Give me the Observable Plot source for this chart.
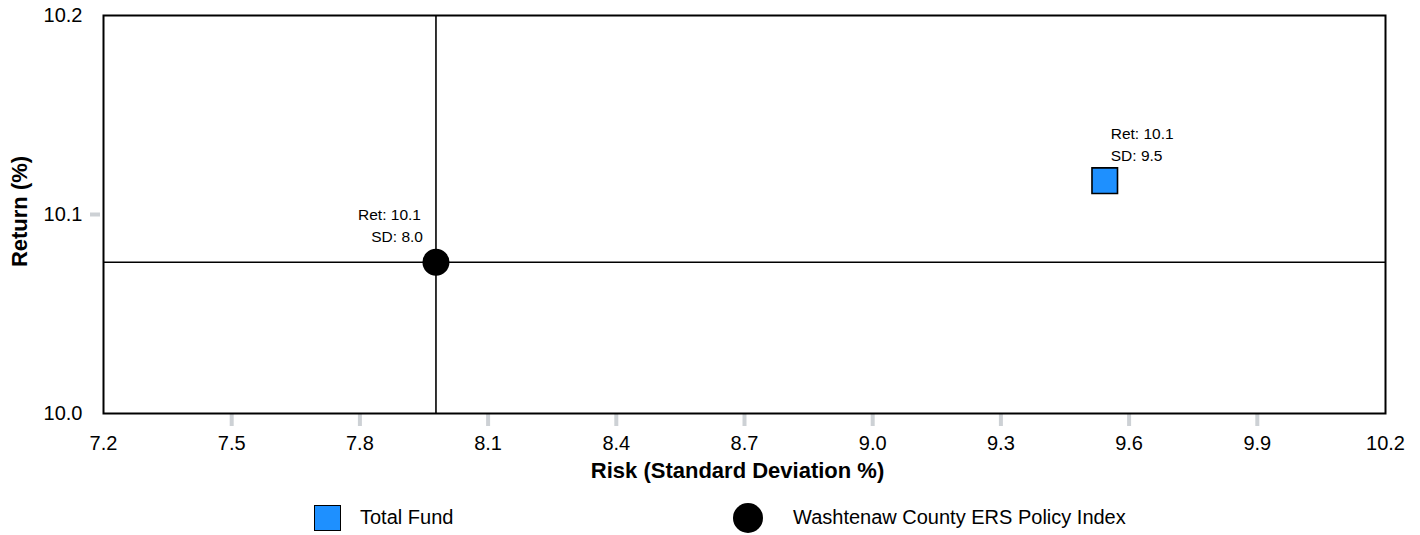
<!DOCTYPE html>
<html>
<head>
<meta charset="utf-8">
<script src="https://cdn.jsdelivr.net/npm/d3@7"></script>
<script src="https://cdn.jsdelivr.net/npm/@observablehq/plot@0.6"></script>
<style>
  html, body { margin: 0; padding: 0; background: #fff; }
  body { font-family: "Liberation Sans", Arial, sans-serif; }
  #wrap { position: relative; width: 1420px; height: 535px; overflow: hidden; }
  #legend { position: absolute; left: 0; top: 500px; width: 1420px; height: 35px; }
  .item { position: absolute; top: 0; height: 35px; display: flex; align-items: center; font-size: 20px; color: #000; }
  .sw { display: inline-block; box-sizing: border-box; }
</style>
</head>
<body>
<div id="wrap"><div id="chart"></div><div id="legend"></div></div>
<script>
// ---- data ----
const seriesNames = ["Total Fund", "Washtenaw County ERS Policy Index"];
const riskValues = [9.543, 7.978];      // Standard deviation %
const returnValues = [10.117, 10.076];  // Return %
const seriesFill = ["#1e90ff", "#000000"];
const seriesSymbol = ["square", "circle"];
const xTickValues = [7.2, 7.5, 7.8, 8.1, 8.4, 8.7, 9.0, 9.3, 9.6, 9.9, 10.2];
const yTickValues = [10.0, 10.1, 10.2];
const xTitle = "Risk (Standard Deviation %)";
const yTitle = "Return (%)";

const rows = seriesNames.map((name, i) => ({
  name, sd: riskValues[i], ret: returnValues[i], fill: seriesFill[i], symbol: seriesSymbol[i]
}));
const fund = rows[0];
const policy = rows[1];
const f1 = d3.format(".1f");
const tickGray = "#cdd1d5";

const chart = Plot.plot({
  width: 1420,
  height: 500,
  marginTop: 15,
  marginBottom: 87,
  marginLeft: 103,
  marginRight: 35,
  style: { fontFamily: "'Liberation Sans', Arial, sans-serif", background: "#fff", color: "#000", overflow: "visible" },
  x: { domain: [xTickValues[0], xTickValues[xTickValues.length - 1]], label: null },
  y: { domain: [yTickValues[0], yTickValues[yTickValues.length - 1]], label: null },
  marks: [
    Plot.axisX(xTickValues.slice(1, -1), { tickSize: 13, text: null, stroke: tickGray, strokeWidth: 4, label: null }),
    Plot.axisX(xTickValues, { tickSize: 0, tickPadding: 22, tickFormat: f1, fontSize: 20, label: null }),
    Plot.axisY(yTickValues.slice(1, -1), { tickSize: 10, dx: -3, text: null, stroke: tickGray, strokeWidth: 4, label: null }),
    Plot.axisY(yTickValues, { tickSize: 0, tickPadding: 21, tickFormat: f1, fontSize: 20, label: null }),
    Plot.text([xTitle], { frameAnchor: "bottom", lineAnchor: "middle", textAnchor: "middle", dx: -7, dy: 57, fontSize: 22, fontWeight: "bold", fill: "#000" }),
    Plot.text([yTitle], { frameAnchor: "left", lineAnchor: "middle", textAnchor: "middle", dx: -84, dy: -3, rotate: -90, fontSize: 22, fontWeight: "bold", fill: "#000" }),
    Plot.ruleX([policy], { x: "sd", stroke: "#000", strokeWidth: 1.6 }),
    Plot.ruleY([policy], { y: "ret", stroke: "#000", strokeWidth: 1.6 }),
    Plot.frame({ stroke: "#000", strokeWidth: 2 }),
    Plot.dot([fund], { x: "sd", y: "ret", symbol: "square", r: 14.4, fill: "fill", stroke: "#000", strokeWidth: 1.6 }),
    Plot.dot([policy], { x: "sd", y: "ret", symbol: "circle", r: 13.5, fill: "fill", stroke: "none" }),
    Plot.text([fund], { x: "sd", y: "ret", text: d => `Ret: ${f1(d.ret)}`, dx: 6, dy: -47, textAnchor: "start", fontSize: 15.5, fill: "#000" }),
    Plot.text([fund], { x: "sd", y: "ret", text: d => `SD: ${f1(d.sd)}`, dx: 6, dy: -25, textAnchor: "start", fontSize: 15.5, fill: "#000" }),
    Plot.text([policy], { x: "sd", y: "ret", text: d => `Ret: ${f1(d.ret)}`, dx: -15, dy: -47.5, textAnchor: "end", fontSize: 15.5, fill: "#000" }),
    Plot.text([policy], { x: "sd", y: "ret", text: d => `SD: ${f1(d.sd)}`, dx: -13, dy: -25.5, textAnchor: "end", fontSize: 15.5, fill: "#000" })
  ]
});
document.getElementById("chart").appendChild(chart);

// ---- legend ----
const legend = document.getElementById("legend");
const legendPos = [{ left: 314, gap: 19 }, { left: 733, gap: 30 }];
rows.forEach((r, i) => {
  const item = document.createElement("div");
  item.className = "item";
  item.style.left = legendPos[i].left + "px";
  const sw = document.createElement("span");
  sw.className = "sw";
  if (r.symbol === "square") {
    sw.style.width = "27px"; sw.style.height = "26px";
    sw.style.background = r.fill; sw.style.border = "1.6px solid #000";
  } else {
    sw.style.width = "30px"; sw.style.height = "30px";
    sw.style.background = r.fill; sw.style.borderRadius = "50%";
  }
  const label = document.createElement("span");
  label.textContent = r.name;
  label.style.marginLeft = legendPos[i].gap + "px";
  item.appendChild(sw);
  item.appendChild(label);
  legend.appendChild(item);
});
</script>
</body>
</html>
